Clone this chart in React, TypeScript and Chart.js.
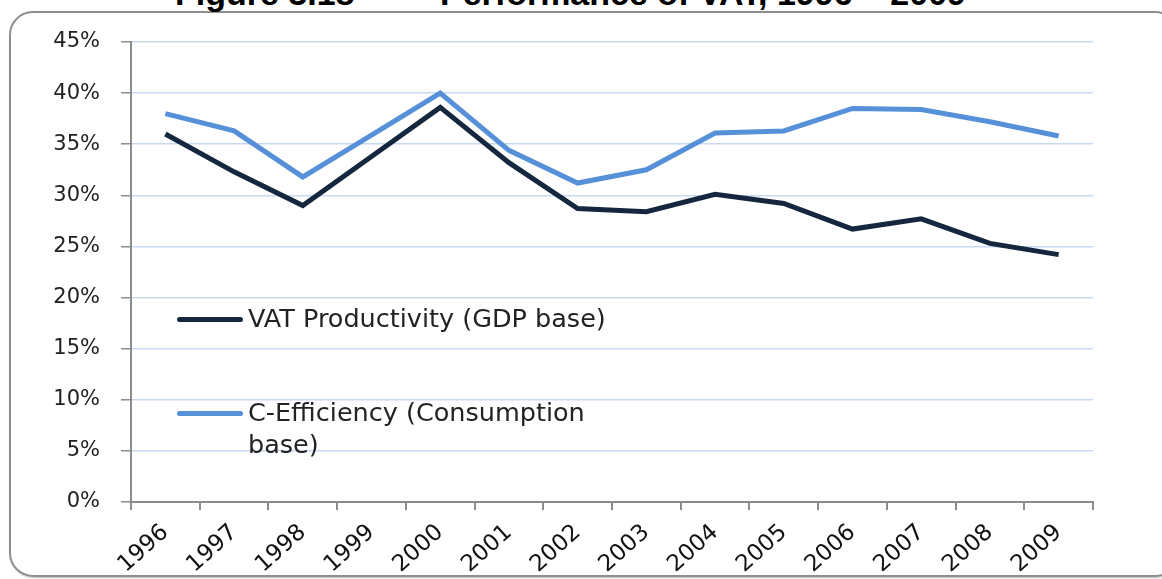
import React, { useEffect, useRef } from "react";
import { Chart, registerables } from "chart.js";

Chart.register(...registerables);

const years = ["1996", "1997", "1998", "1999", "2000", "2001", "2002", "2003", "2004", "2005", "2006", "2007", "2008", "2009"];
const vatProductivity = [36.0, 32.3, 29.0, 33.8, 38.6, 33.2, 28.7, 28.4, 30.1, 29.2, 26.7, 27.7, 25.3, 24.2];
const cEfficiency = [38.0, 36.3, 31.8, 35.9, 40.0, 34.4, 31.2, 32.5, 36.1, 36.3, 38.5, 38.4, 37.2, 35.8];
const seriesLabels = ["VAT Productivity (GDP base)", "C-Efficiency (Consumption base)"];
const seriesColors = ["#15263f", "#5590d8"];
const yMin = 0;
const yMax = 45;
const yStep = 5;
const titleParts = ["Figure 3.18", "Performance of VAT, 1996 \u2013 2009"];

const FONT = "'DejaVu Sans', sans-serif";

export default function App() {
  const canvasRef = useRef<HTMLCanvasElement | null>(null);

  useEffect(() => {
    if (!canvasRef.current) return;
    const chart = new Chart(canvasRef.current, {
      type: "line",
      data: {
        labels: years,
        datasets: [
          {
            label: seriesLabels[0],
            data: vatProductivity,
            borderColor: seriesColors[0],
            backgroundColor: seriesColors[0],
            borderWidth: 5,
            pointRadius: 0,
            tension: 0,
            fill: false,
          },
          {
            label: seriesLabels[1],
            data: cEfficiency,
            borderColor: seriesColors[1],
            backgroundColor: seriesColors[1],
            borderWidth: 5,
            pointRadius: 0,
            tension: 0,
            fill: false,
          },
        ],
      },
      options: {
        animation: false,
        responsive: false,
        devicePixelRatio: 1,
        layout: { padding: { top: 42, right: 69, left: 0, bottom: 0 } },
        plugins: { legend: { display: false }, tooltip: { enabled: false }, title: { display: false } },
        scales: {
          x: {
            type: "category",
            offset: true,
            grid: {
              drawOnChartArea: false,
              offset: true,
              tickLength: 8,
              color: "#8c8c8c",
              tickColor: "#8c8c8c",
              lineWidth: 2,
            },
            border: { display: true, color: "#8c8c8c", width: 2 },
            ticks: {
              maxRotation: 42,
              minRotation: 42,
              autoSkip: false,
              padding: 9,
              color: "#111",
              font: { family: FONT, size: 23 },
            },
            afterFit: (scale: any) => {
              scale.height = 77;
            },
          },
          y: {
            min: yMin,
            max: yMax,
            grid: {
              color: "#c8daf2",
              lineWidth: 1.5,
              tickColor: "#8c8c8c",
              tickLength: 10,
            },
            border: { display: true, color: "#8c8c8c", width: 2 },
            ticks: {
              stepSize: yStep,
              padding: 21,
              color: "#222",
              font: { family: FONT, size: 21 },
              callback: (v: any) => `${v}%`,
            },
            afterFit: (scale: any) => {
              scale.width = 131;
            },
          },
        },
      },
    });
    return () => chart.destroy();
  }, []);

  const titleStyle: React.CSSProperties = {
    position: "absolute",
    top: -24,
    font: "bold 34px 'Liberation Sans', Arial, sans-serif",
    lineHeight: "34px",
    whiteSpace: "nowrap",
    color: "#000",
  };

  return (
    <div
      style={{
        position: "absolute",
        left: 0,
        top: 0,
        width: 1162,
        height: 579,
        overflow: "hidden",
        background: "#fff",
      }}
    >
      <div
        style={{
          position: "absolute",
          left: 9,
          top: 11,
          width: 1170,
          height: 566,
          border: "2px solid #8e8e8e",
          borderRadius: 24,
          boxSizing: "border-box",
          boxShadow: "1px 1px 2px rgba(0,0,0,0.25)",
        }}
      />
      <div style={{ ...titleStyle, left: 175 }}>{titleParts[0]}</div>
      <div style={{ ...titleStyle, left: 440 }}>{titleParts[1]}</div>
      <canvas
        ref={canvasRef}
        width={1162}
        height={579}
        style={{ position: "absolute", left: 0, top: 0, width: 1162, height: 579 }}
      />
      <div style={{ position: "absolute", left: 177, top: 317, width: 66, height: 5, borderRadius: 2.5, background: seriesColors[0] }} />
      <div
        style={{
          position: "absolute",
          left: 248,
          top: 302,
          font: `25.5px ${FONT}`,
          lineHeight: "32px",
          color: "#222",
          whiteSpace: "nowrap",
        }}
      >
        {seriesLabels[0]}
      </div>
      <div style={{ position: "absolute", left: 177, top: 411, width: 66, height: 5, borderRadius: 2.5, background: seriesColors[1] }} />
      <div
        style={{
          position: "absolute",
          left: 248,
          top: 396,
          width: 380,
          font: `25.5px ${FONT}`,
          lineHeight: "32px",
          color: "#222",
        }}
      >
        {seriesLabels[1]}
      </div>
    </div>
  );
}
